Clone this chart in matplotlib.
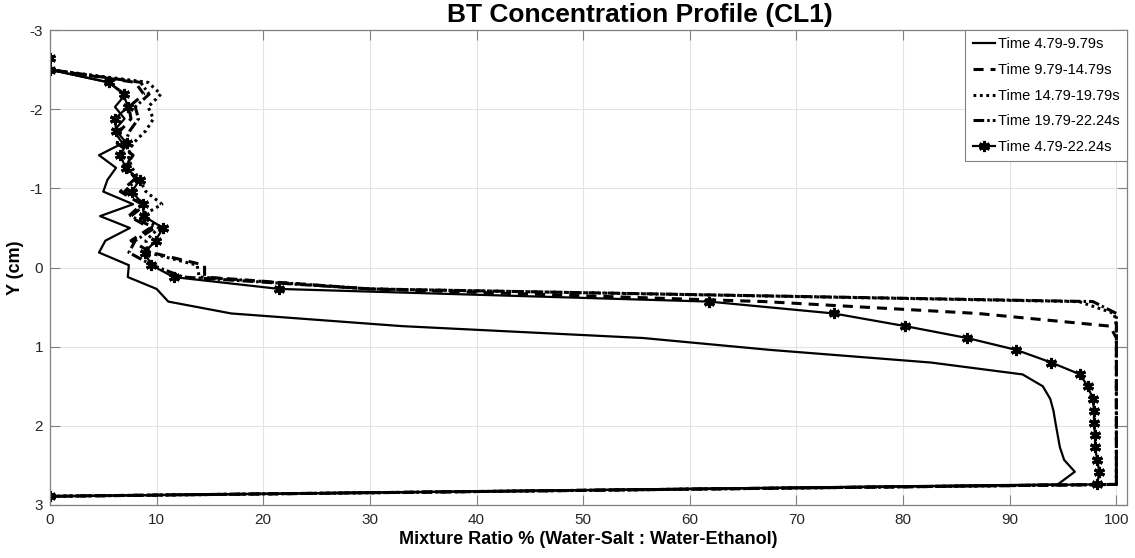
import numpy as np
from matplotlib import pyplot as plt

plt.rcParams['font.family'] = ['Liberation Sans', 'DejaVu Sans']

# depth positions (cm) of the sampling cells, top to bottom
y_cm = [-2.65, -2.50, -2.34, -2.19, -2.03, -1.88, -1.73, -1.57, -1.42, -1.26,
        -1.11, -0.96, -0.80, -0.65, -0.50, -0.34, -0.19, -0.03, 0.12, 0.27,
        0.43, 0.58, 0.74, 0.89, 1.04, 1.20, 1.35, 1.50, 1.66, 1.81,
        1.97, 2.12, 2.27, 2.43, 2.58, 2.74, 2.89]

# mixture ratio (%) per time window
ratio_t1 = [0, 0, 5.5, 7.1, 6.1, 7.0, 6.0, 6.8, 4.6, 6.2,
            5.4, 5.0, 7.8, 4.7, 7.5, 5.2, 4.6, 7.4, 7.3, 10.0,
            11.1, 17.0, 33.0, 55.6, 67.5, 82.6, 91.2, 93.1, 93.8, 94.1,
            94.3, 94.5, 94.7, 95.1, 96.1, 94.5, 0]
ratio_t2 = [0, 0, 8.0, 8.8, 7.4, 7.6, 6.6, 6.3, 7.8, 7.0,
            7.9, 6.6, 8.6, 7.4, 9.4, 7.6, 9.5, 14.5, 14.5, 30.0,
            67.0, 87.0, 99.4, 100, 100, 100, 100, 100, 100, 100,
            100, 100, 100, 100, 100, 100, 0]
ratio_t3 = [0, 0, 9.2, 10.4, 9.2, 9.7, 9.0, 7.8, 7.3, 7.7,
            8.4, 9.0, 10.5, 8.6, 10.2, 9.0, 9.2, 13.8, 14.0, 30.0,
            96.5, 99.8, 100, 100, 100, 100, 100, 100, 100, 100,
            100, 100, 100, 100, 100, 100, 0]
ratio_t4 = [0, 0, 8.5, 9.3, 8.0, 8.3, 7.5, 7.0, 7.6, 7.2,
            8.1, 7.0, 9.0, 7.6, 9.8, 8.0, 7.4, 9.6, 12.5, 30.0,
            97.8, 100, 100, 100, 100, 100, 100, 100, 100, 100,
            100, 100, 100, 100, 100, 100, 0]
ratio_all = [0, 0, 5.5, 6.9, 7.3, 6.1, 6.2, 7.2, 6.6, 7.1,
             8.4, 7.7, 8.7, 8.8, 10.6, 9.9, 8.9, 9.5, 11.6, 21.5,
             61.8, 73.5, 80.2, 86.0, 90.6, 93.9, 96.6, 97.3, 97.8, 97.9,
             97.9, 98.0, 98.0, 98.2, 98.4, 98.2, 0]

labels = ['Time 4.79-9.79s', 'Time 9.79-14.79s', 'Time 14.79-19.79s',
          'Time 19.79-22.24s', 'Time 4.79-22.24s']

x_ticks = np.arange(0, 101, 10)
y_ticks = np.arange(-3, 4, 1)

fig = plt.figure(figsize=(11.35, 5.58), dpi=100)
ax = fig.add_axes([0.044, 0.095, 0.949, 0.851])

ax.plot(ratio_t1, y_cm, color='k', lw=1.6, linestyle='-', label=labels[0])
ax.plot(ratio_t2, y_cm, color='k', lw=2.2, linestyle=(0, (3.3, 2.3)), label=labels[1])
ax.plot(ratio_t3, y_cm, color='k', lw=2.2, linestyle=(0, (0.9, 1.2)), label=labels[2])
ax.plot(ratio_t4, y_cm, color='k', lw=2.2, linestyle=(0, (3.5, 1.0, 0.8, 1.0)), label=labels[3])
ax.plot(ratio_all, y_cm, color='k', lw=1.6, linestyle='-', marker=(6, 2, 0),
        markersize=8, markeredgewidth=2.2, label=labels[4])

ax.set_xlim(0, 101)
ax.set_ylim(3, -3)
ax.set_xticks(x_ticks)
ax.set_yticks(y_ticks)
ax.set_yticklabels([str(v) for v in y_ticks])

# matlab-like axes: boxed, inward ticks, faint grid
ax.grid(True, color='#e3e3e3', lw=0.8)
ax.set_axisbelow(True)
for sp in ax.spines.values():
    sp.set_color('#808080')
    sp.set_linewidth(0.9)
ax.tick_params(direction='in', top=True, right=True, length=7, width=0.8,
               color='#808080', labelcolor='#262626', labelsize=11)
ax.tick_params(axis='x', pad=6)
ax.tick_params(axis='y', pad=5)

ax.set_ylabel('Y (cm)', fontsize=13, fontweight='bold', labelpad=4)
ax.set_xlabel('Mixture Ratio % (Water-Salt : Water-Ethanol)',
              fontsize=13, fontweight='bold', labelpad=3)
fig.text(0.564, 0.973, 'BT Concentration Profile (CL1)',
         fontsize=19, fontweight='bold', ha='center', va='center')

leg = ax.legend(loc='upper right', borderaxespad=0, fontsize=10.5,
                handlelength=1.55, handletextpad=0.2, labelspacing=0.8,
                fancybox=False, framealpha=1, borderpad=0.5)
leg.get_frame().set_edgecolor('#808080')
leg.get_frame().set_linewidth(0.8)

plt.savefig('out.png', dpi=100)
